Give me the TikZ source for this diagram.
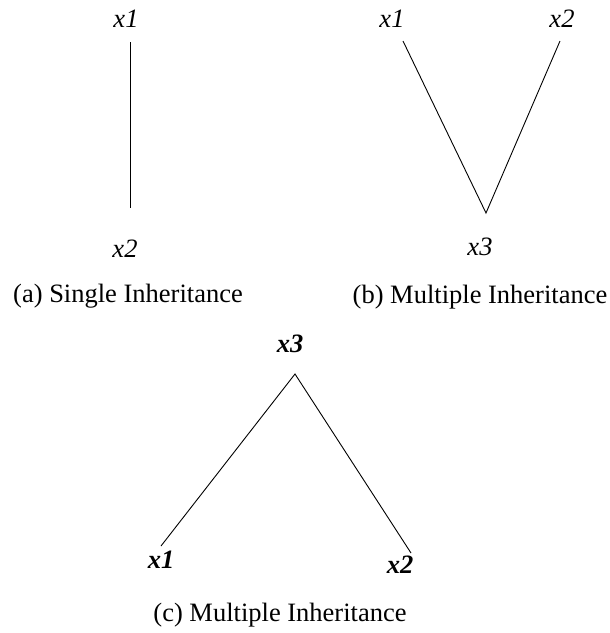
\documentclass[tikz,border=0pt]{standalone}
\usepackage{fontspec}
\setmainfont{Liberation Serif}
\tikzset{
  lbl/.style={inner sep=0pt, anchor=base, font=\fontsize{26.5}{31}\selectfont\itshape},
  blbl/.style={inner sep=0pt, anchor=base, font=\fontsize{26.5}{31}\selectfont\bfseries\itshape},
  captxt/.style={inner sep=0pt, anchor=base, font=\fontsize{26.5}{31}\selectfont},
  conn/.style={draw=black, line width=0.9pt}
}
\begin{document}
\begin{tikzpicture}[x=1pt,y=-1pt]
\useasboundingbox[fill=white] (0,0) rectangle (610,633);
% (a)
\node[lbl] (a1) at (126,27) {x1};
\node[lbl] (a2) at (125,257) {x2};
\coordinate (a1b) at (130,42);
\coordinate (a2t) at (130,208);
\draw[conn] (a1b) -- (a2t);
\node[captxt] (capa) at (128,302) {(a) Single Inheritance};
% (b)
\node[lbl] (b1) at (392,27) {x1};
\node[lbl] (b2) at (562,27) {x2};
\node[lbl] (b3) at (480,255) {x3};
\coordinate (b1b) at (403,41);
\coordinate (b2b) at (560,41);
\coordinate (b3t) at (486,213);
\draw[conn] (b1b) -- (b3t) -- (b2b);
\node[captxt] (capb) at (480,303) {(b) Multiple Inheritance};
% (c)
\node[blbl] (c3) at (290,352) {x3};
\node[blbl] (c1) at (161,568) {x1};
\node[blbl] (c2) at (400,573) {x2};
\coordinate (c3b) at (295,374);
\coordinate (c1t) at (161,546);
\coordinate (c2t) at (411,553);
\draw[conn] (c1t) -- (c3b) -- (c2t);
\node[captxt] (capc) at (280,621) {(c) Multiple Inheritance};
\end{tikzpicture}
\end{document}
